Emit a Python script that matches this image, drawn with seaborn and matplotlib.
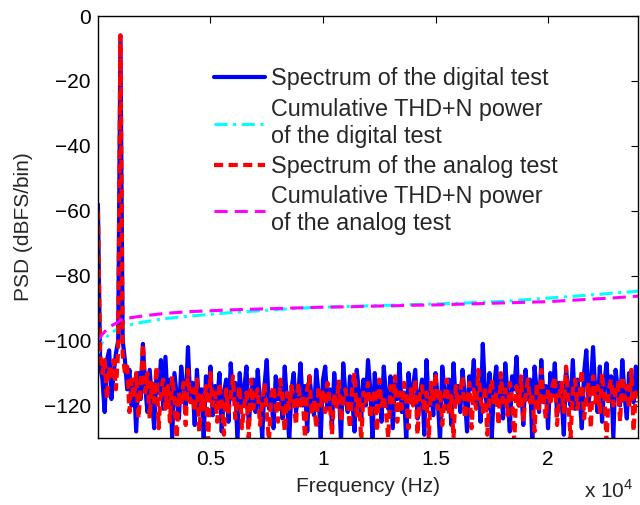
import numpy as np
import matplotlib
matplotlib.use("Agg")
import matplotlib.pyplot as plt
import seaborn as sns

# ---------------- data ----------------
bin_hz = 100
digital_psd = [
    -58, -108, -112, -122, -106, -103, -118, -110, -104, -100, -6, -100, -106, -115, -109, -120, -112, -128, -110, -118, -101,
    -114, -122, -109, -118, -127, -111, -116, -106, -121, -105,
    -119, -112, -130, -110, -117, -124, -108, -115, -120, -102,
    -118, -113, -126, -109, -121, -115, -130, -111, -117, -108,
    -123, -114, -119, -110, -128, -116, -112, -125, -107, -118,
    -113, -131, -110, -120, -115, -108, -126, -117, -112, -122,
    -109, -119, -130, -114, -106, -121, -116, -127, -111, -118,
    -113, -124, -108, -119, -131, -115, -110, -122, -117, -107,
    -120, -114, -128, -111, -118, -123, -109, -116, -130, -112,
    -108, -121, -115, -126, -110, -119, -113, -131, -107, -117,
    -122, -111, -118, -128, -109, -116, -124, -112, -120, -106,
    -115, -130, -110, -119, -114, -125, -108, -117, -121, -111,
    -127, -113, -118, -107, -122, -116, -131, -110, -119, -114,
    -109, -124, -117, -112, -129, -106, -120, -115, -123, -110,
    -118, -131, -108, -116, -121, -112, -126, -107, -119, -114,
    -122, -109, -117, -128, -111, -115, -106, -120, -113, -125,
    -101, -116, -121, -110, -130, -114, -108, -119, -112, -124,
    -107, -117, -128, -111, -115, -105, -120, -113, -126, -109,
    -118, -112, -131, -108, -116, -122, -106, -119, -114, -127,
    -110, -117, -107, -123, -113, -118, -129, -109, -115, -120,
    -106, -121, -112, -117, -127, -110, -103, -119, -114, -102,
    -116, -122, -108, -125, -113, -107, -118, -111, -130, -109,
    -115, -120, -106, -117, -124, -110, -113, -119, -108, -116,
]
analog_psd = [
    -60, -104, -110, -106, -118, -108, -112, -106, -115, -103, -6, -104, -110, -108, -122, -112, -118, -110, -124, -115, -101,
    -116, -110, -124, -113, -119, -108, -127, -115, -112, -121,
    -114, -125, -111, -118, -130, -116, -120, -113, -126, -109,
    -119, -115, -122, -112, -128, -117, -121, -114, -131, -110,
    -120, -116, -125, -113, -119, -129, -115, -122, -117, -111,
    -124, -118, -114, -127, -120, -116, -130, -112, -121, -117,
    -115, -126, -119, -113, -122, -131, -117, -114, -120, -125,
    -112, -118, -128, -116, -121, -114, -119, -126, -113, -120,
    -117, -130, -115, -111, -123, -118, -127, -114, -120, -116,
    -122, -113, -119, -129, -116, -121, -112, -125, -118, -115,
    -120, -127, -114, -110, -123, -117, -131, -116, -119, -113,
    -124, -118, -115, -128, -112, -120, -117, -122, -130, -114,
    -119, -111, -125, -116, -121, -113, -118, -127, -115, -120,
    -112, -129, -117, -114, -122, -116, -131, -113, -119, -110,
    -121, -115, -126, -118, -112, -123, -117, -130, -114, -120,
    -116, -111, -124, -119, -113, -127, -115, -121, -109, -118,
    -122, -114, -129, -117, -112, -120, -116, -126, -110, -119,
    -115, -123, -113, -118, -131, -114, -120, -111, -125, -117,
    -112, -119, -116, -128, -113, -121, -109, -118, -124, -115,
    -120, -114, -111, -126, -117, -113, -122, -108, -119, -130,
    -115, -112, -121, -116, -109, -124, -118, -113, -127, -111,
    -119, -114, -122, -110, -117, -131, -115, -112, -120, -116,
    -113, -125, -111, -118, -114, -121, -109, -128, -116, -119,
]
cum_freq = [0, 200, 500, 900, 1100, 1500, 2000, 3000, 4000, 5000, 6000, 7000, 8000,
            9000, 10000, 11000, 12000, 13000, 14000, 15000, 16000, 17000, 18000,
            19000, 20000, 21000, 22000, 23000, 24000]
cum_digital = [-104, -100.5, -98, -96.3, -95.8, -95, -94.3, -93.2, -92.5, -91.9, -91.3,
               -90.9, -90.4, -90.0, -89.7, -89.5, -89.3, -89.1, -88.9, -88.7, -88.5,
               -88.2, -87.9, -87.4, -86.9, -86.4, -85.9, -85.3, -84.8]
cum_analog = [-100, -98, -95.8, -94.3, -93.2, -92.9, -92.4, -91.6, -91.1, -90.8, -90.5,
              -90.3, -90.1, -89.9, -89.7, -89.6, -89.4, -89.3, -89.1, -89.0, -88.8,
              -88.6, -88.4, -88.2, -88.0, -87.6, -87.2, -86.8, -86.3]
labels = ["Spectrum of the digital test",
          "Cumulative THD+N power\nof the digital test",
          "Spectrum of the analog test",
          "Cumulative THD+N power\nof the analog test"]
xticks = [5000, 10000, 15000, 20000]
xtick_labels = ["0.5", "1", "1.5", "2"]
yticks = [0, -20, -40, -60, -80, -100, -120]

# ---------------- style ----------------
sns.set_style("white")
plt.rcParams['font.family'] = ['Liberation Sans', 'DejaVu Sans']
plt.rcParams['mathtext.fontset'] = 'custom'
plt.rcParams['mathtext.rm'] = 'Liberation Sans'

freq = np.arange(len(digital_psd)) * bin_hz

fig = plt.figure(figsize=(6.4, 5.05), dpi=100)
ax = fig.add_axes([0.153, 0.1327, 0.844, 0.8356])

sns.lineplot(x=freq, y=digital_psd, ax=ax, color="#0000ff", lw=3.0, label=labels[0])
sns.lineplot(x=cum_freq, y=cum_digital, ax=ax, color="#00ffff", lw=2.2,
             linestyle=(0, (4.3, 1.8, 1.0, 1.8)), label=labels[1])
sns.lineplot(x=freq, y=analog_psd, ax=ax, color="#ff0000", lw=3.0,
             linestyle=(0, (2.2, 1.3)), label=labels[2])
sns.lineplot(x=cum_freq, y=cum_analog, ax=ax, color="#ff00ff", lw=2.2,
             linestyle=(0, (4.3, 2.3)), label=labels[3])

ax.set_xlim(0, 24000)
ax.set_ylim(-130, 0)
ax.set_xticks(xticks)
ax.set_xticklabels(xtick_labels)
ax.set_yticks(yticks)
ax.tick_params(direction="in", top=True, right=True, length=5, width=0.8,
               labelsize=15, colors="black")
ax.tick_params(axis="x", pad=8.5)
ax.tick_params(axis="y", pad=5)
for s in ax.spines.values():
    s.set_color("black")
    s.set_linewidth(1.0)

ax.set_xlabel("Frequency (Hz)", fontsize=15, labelpad=6)
ax.set_ylabel("PSD (dBFS/bin)", fontsize=15, labelpad=7.5)
ax.text(0.945, -0.124, r"x 10$^{4}$", transform=ax.transAxes, ha="center",
        va="center", fontsize=15)

leg = ax.legend(loc="upper left", bbox_to_anchor=(0.215, 0.878), frameon=False,
                fontsize=16.8, handlelength=2.2, handletextpad=0.25,
                labelspacing=0.32, borderpad=0, borderaxespad=0)
for t in leg.get_texts():
    t.set_linespacing(1.2)

fig.savefig("out.png", dpi=100)
